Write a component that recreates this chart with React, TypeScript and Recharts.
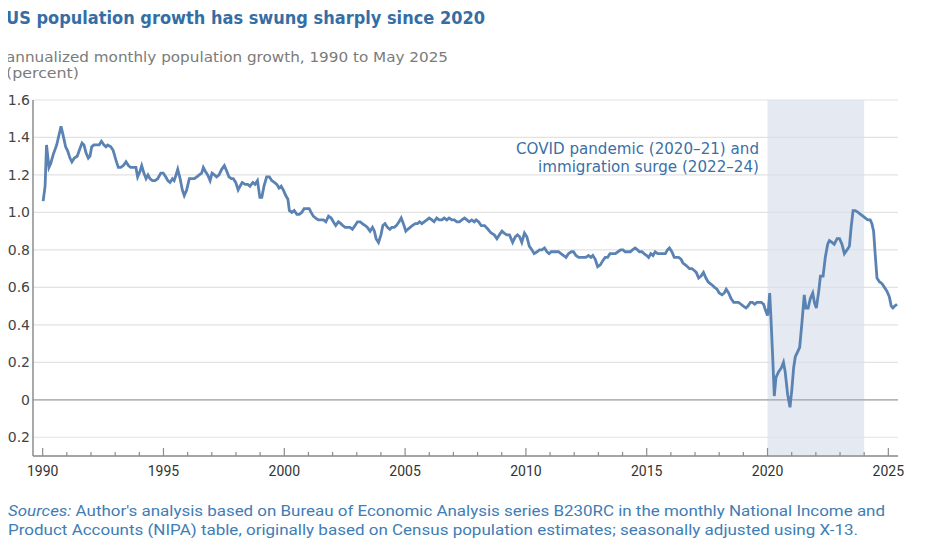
import React from 'react';
import {
  LineChart,
  Line,
  XAxis,
  YAxis,
  CartesianGrid,
  ReferenceArea,
  ReferenceLine,
} from 'recharts';

// [decimal year, annualized monthly growth %]
const growth1990s = [
  [1990.02, 1.06], [1990.1, 1.14], [1990.16, 1.36], [1990.26, 1.24], [1990.33, 1.26], [1990.44, 1.31],
  [1990.58, 1.36], [1990.76, 1.46], [1990.85, 1.41], [1990.95, 1.35], [1991.03, 1.33], [1991.13, 1.29],
  [1991.21, 1.27], [1991.31, 1.29], [1991.43, 1.3], [1991.54, 1.34], [1991.63, 1.37], [1991.71, 1.36],
  [1991.79, 1.32], [1991.89, 1.29], [1991.96, 1.3], [1992.03, 1.35], [1992.12, 1.36], [1992.24, 1.36],
  [1992.34, 1.36], [1992.43, 1.38], [1992.54, 1.36], [1992.62, 1.35], [1992.69, 1.36], [1992.82, 1.35],
  [1992.92, 1.33], [1993.03, 1.28], [1993.13, 1.24], [1993.23, 1.24], [1993.34, 1.25], [1993.45, 1.27],
  [1993.55, 1.25], [1993.64, 1.24], [1993.75, 1.24], [1993.86, 1.24], [1993.93, 1.19], [1994.03, 1.22],
  [1994.1, 1.25], [1994.19, 1.21], [1994.28, 1.18], [1994.36, 1.2], [1994.44, 1.18], [1994.54, 1.17],
  [1994.65, 1.17], [1994.76, 1.18], [1994.89, 1.21], [1994.99, 1.21], [1995.09, 1.19], [1995.18, 1.17],
  [1995.27, 1.16], [1995.37, 1.18], [1995.44, 1.17], [1995.52, 1.2], [1995.59, 1.23], [1995.69, 1.18],
  [1995.78, 1.12], [1995.86, 1.09], [1995.96, 1.12], [1996.07, 1.18], [1996.17, 1.18], [1996.28, 1.18],
  [1996.38, 1.19], [1996.48, 1.2], [1996.58, 1.21], [1996.65, 1.24], [1996.73, 1.22], [1996.83, 1.2],
  [1996.93, 1.17], [1997.01, 1.21], [1997.11, 1.2], [1997.2, 1.19], [1997.3, 1.2], [1997.41, 1.23],
  [1997.52, 1.25], [1997.62, 1.22], [1997.71, 1.19], [1997.81, 1.18], [1997.89, 1.18], [1997.99, 1.16],
  [1998.09, 1.12], [1998.17, 1.14], [1998.26, 1.16], [1998.38, 1.15], [1998.49, 1.15], [1998.58, 1.14],
  [1998.7, 1.16], [1998.79, 1.15], [1998.89, 1.17], [1998.99, 1.08], [1999.07, 1.08], [1999.16, 1.14],
  [1999.27, 1.19], [1999.38, 1.19], [1999.48, 1.17], [1999.59, 1.16], [1999.69, 1.15], [1999.78, 1.13],
  [1999.87, 1.14], [1999.96, 1.12],
];

const growth2000s = [
  [2000.06, 1.09], [2000.15, 1.07], [2000.21, 1.01], [2000.31, 1.0], [2000.41, 1.01], [2000.52, 0.99],
  [2000.62, 0.99], [2000.72, 1.0], [2000.82, 1.02], [2000.93, 1.02], [2001.03, 1.02], [2001.11, 1.0],
  [2001.2, 0.98], [2001.3, 0.97], [2001.41, 0.96], [2001.52, 0.96], [2001.62, 0.96], [2001.72, 0.95],
  [2001.83, 0.98], [2001.94, 0.97], [2002.03, 0.95], [2002.13, 0.93], [2002.24, 0.95], [2002.34, 0.94],
  [2002.42, 0.93], [2002.52, 0.92], [2002.61, 0.92], [2002.72, 0.92], [2002.82, 0.91], [2002.93, 0.93],
  [2003.03, 0.95], [2003.14, 0.95], [2003.23, 0.94], [2003.35, 0.93], [2003.44, 0.92], [2003.55, 0.9],
  [2003.65, 0.92], [2003.73, 0.9], [2003.8, 0.86], [2003.9, 0.84], [2004.0, 0.88], [2004.08, 0.93],
  [2004.17, 0.94], [2004.27, 0.92], [2004.37, 0.91], [2004.45, 0.92], [2004.55, 0.92], [2004.64, 0.93],
  [2004.75, 0.95], [2004.84, 0.97], [2004.93, 0.94], [2005.03, 0.9], [2005.11, 0.91], [2005.21, 0.92],
  [2005.3, 0.93], [2005.42, 0.94], [2005.51, 0.94], [2005.6, 0.95], [2005.69, 0.94], [2005.79, 0.95],
  [2005.9, 0.96], [2006.0, 0.97], [2006.11, 0.96], [2006.2, 0.95], [2006.31, 0.97], [2006.41, 0.96],
  [2006.52, 0.96], [2006.62, 0.97], [2006.73, 0.96], [2006.82, 0.97], [2006.94, 0.96], [2007.04, 0.96],
  [2007.14, 0.95], [2007.25, 0.95], [2007.35, 0.96], [2007.46, 0.97], [2007.56, 0.96], [2007.65, 0.95],
  [2007.76, 0.96], [2007.86, 0.95], [2007.94, 0.96], [2008.04, 0.95], [2008.15, 0.93], [2008.29, 0.93],
  [2008.43, 0.91], [2008.56, 0.89], [2008.69, 0.88], [2008.8, 0.86], [2008.9, 0.88], [2009.01, 0.9],
  [2009.1, 0.89], [2009.21, 0.88], [2009.32, 0.88], [2009.45, 0.84], [2009.56, 0.87], [2009.65, 0.88],
  [2009.74, 0.87], [2009.83, 0.84], [2009.94, 0.89],
];

const growth2010s = [
  [2010.04, 0.87], [2010.14, 0.82], [2010.25, 0.8], [2010.34, 0.78], [2010.46, 0.79], [2010.56, 0.8],
  [2010.66, 0.8], [2010.77, 0.81], [2010.87, 0.79], [2010.96, 0.78], [2011.05, 0.79], [2011.14, 0.79],
  [2011.24, 0.79], [2011.35, 0.79], [2011.45, 0.78], [2011.56, 0.77], [2011.66, 0.76], [2011.76, 0.78],
  [2011.88, 0.79], [2011.97, 0.79], [2012.07, 0.77], [2012.18, 0.76], [2012.29, 0.76], [2012.38, 0.76],
  [2012.48, 0.76], [2012.59, 0.77], [2012.69, 0.76], [2012.77, 0.77], [2012.87, 0.75], [2012.97, 0.71],
  [2013.08, 0.72], [2013.17, 0.74], [2013.28, 0.76], [2013.38, 0.76], [2013.48, 0.78], [2013.59, 0.78],
  [2013.7, 0.78], [2013.81, 0.79], [2013.92, 0.8], [2014.02, 0.8], [2014.11, 0.79], [2014.22, 0.79],
  [2014.32, 0.79], [2014.41, 0.8], [2014.52, 0.81], [2014.62, 0.8], [2014.7, 0.79], [2014.8, 0.79],
  [2014.89, 0.78], [2015.0, 0.77], [2015.08, 0.76], [2015.17, 0.78], [2015.26, 0.77], [2015.35, 0.79],
  [2015.45, 0.78], [2015.56, 0.78], [2015.67, 0.78], [2015.77, 0.78], [2015.86, 0.8], [2015.94, 0.81],
  [2016.04, 0.79], [2016.14, 0.76], [2016.22, 0.76], [2016.32, 0.76], [2016.42, 0.75], [2016.5, 0.73],
  [2016.6, 0.72], [2016.69, 0.71], [2016.77, 0.7], [2016.87, 0.7], [2016.97, 0.69], [2017.05, 0.68],
  [2017.15, 0.65], [2017.25, 0.66], [2017.35, 0.68], [2017.45, 0.65], [2017.54, 0.63], [2017.63, 0.62],
  [2017.73, 0.61], [2017.81, 0.6], [2017.91, 0.59], [2018.0, 0.57], [2018.12, 0.56], [2018.21, 0.57],
  [2018.29, 0.59], [2018.39, 0.57], [2018.49, 0.54], [2018.6, 0.52], [2018.71, 0.52], [2018.8, 0.52],
  [2018.9, 0.51], [2019.0, 0.5], [2019.11, 0.49], [2019.19, 0.5], [2019.29, 0.52], [2019.38, 0.52],
  [2019.47, 0.51], [2019.56, 0.52], [2019.66, 0.52], [2019.74, 0.52], [2019.84, 0.51], [2019.91, 0.48],
];

const growth2020s = [
  [2020.0, 0.45], [2020.04, 0.49], [2020.09, 0.57], [2020.14, 0.44], [2020.21, 0.24], [2020.28, 0.02],
  [2020.35, 0.12], [2020.46, 0.15], [2020.57, 0.17], [2020.66, 0.2], [2020.73, 0.15], [2020.83, 0.03],
  [2020.93, -0.04], [2021.01, 0.06], [2021.08, 0.17], [2021.15, 0.23], [2021.26, 0.26], [2021.33, 0.28],
  [2021.43, 0.42], [2021.52, 0.56], [2021.59, 0.49], [2021.68, 0.49], [2021.77, 0.54], [2021.87, 0.57],
  [2021.94, 0.52], [2022.02, 0.49], [2022.12, 0.58], [2022.19, 0.66], [2022.3, 0.66], [2022.39, 0.76],
  [2022.49, 0.83], [2022.56, 0.85], [2022.67, 0.84], [2022.76, 0.83], [2022.88, 0.86], [2022.98, 0.86],
  [2023.08, 0.83], [2023.18, 0.78], [2023.29, 0.8], [2023.39, 0.82], [2023.46, 0.92], [2023.54, 1.01],
  [2023.63, 1.01], [2023.75, 1.0], [2023.85, 0.99], [2023.95, 0.98], [2024.05, 0.97], [2024.14, 0.96],
  [2024.25, 0.96], [2024.32, 0.94], [2024.39, 0.9], [2024.46, 0.77], [2024.53, 0.65], [2024.63, 0.63],
  [2024.74, 0.62], [2024.84, 0.6], [2024.94, 0.58], [2025.04, 0.55], [2025.12, 0.5], [2025.19, 0.49],
  [2025.26, 0.5], [2025.36, 0.51],
];

const yTicks = [-0.2, 0, 0.2, 0.4, 0.6, 0.8, 1.0, 1.2, 1.4, 1.6];
const xTicks = Array.from({ length: 36 }, (_, i) => 1990 + i);
const shadeStart = 2020;
const shadeEnd = 2024;

const data = [...growth1990s, ...growth2000s, ...growth2010s, ...growth2020s].map(([year, value]) => ({
  year,
  value,
}));

const BLUE = '#346ea5';
const AXIS = '#8c8c8c';

const YearTick = (props: any) => {
  const { x, y, payload } = props;
  const major = payload.value % 5 === 0;
  return (
    <g>
      <line x1={x} x2={x} y1={y} y2={y - (major ? 8 : 4)} stroke={AXIS} strokeWidth={1.2} />
      {major && (
        <text x={x} y={y + 20} textAnchor="middle" fontSize={14} fill="#333" fontFamily="Roboto">
          {payload.value}
        </text>
      )}
    </g>
  );
};

const ValueTick = (props: any) => {
  const { y, payload } = props;
  const v = payload.value;
  return (
    <text x={30} y={y + 5} textAnchor="end" fontSize={14} fill="#444" fontFamily="DejaVu Sans">
      {v === 0 ? '0' : v.toFixed(1)}
    </text>
  );
};

const App: React.FC = () => {
  return (
    <div
      style={{
        position: 'relative',
        width: 936,
        height: 546,
        margin: -8,
        overflow: 'hidden',
        background: '#fff',
      }}
    >
      <div style={{ position: 'absolute', left: 0, top: 0 }}>
        <LineChart width={936} height={546} data={data} margin={{ top: 100, right: 38, bottom: 60, left: 0 }}>
          <ReferenceArea
            x1={shadeStart}
            x2={shadeEnd}
            y1={-0.3}
            y2={1.6}
            fill="#d8e0ec"
            fillOpacity={0.7}
            stroke="none"
          />
          <CartesianGrid vertical={false} stroke="#e2e2e2" strokeWidth={1.2} />
          <ReferenceLine y={0} stroke="#a3a3a3" strokeWidth={1.3} />
          <XAxis
            dataKey="year"
            type="number"
            domain={[1989.6, 2025.4]}
            ticks={xTicks}
            interval={0}
            allowDataOverflow
            height={30}
            tickSize={0}
            tickMargin={0}
            tickLine={false}
            axisLine={{ stroke: AXIS, strokeWidth: 1.5 }}
            tick={<YearTick />}
          />
          <YAxis
            type="number"
            domain={[-0.3, 1.6]}
            ticks={yTicks}
            interval={0}
            allowDataOverflow
            width={33}
            tickLine={false}
            tickSize={0}
            tickMargin={3}
            axisLine={{ stroke: AXIS, strokeWidth: 1.5 }}
            tick={<ValueTick />}
          />
          <Line
            type="linear"
            dataKey="value"
            stroke="#5a82b2"
            strokeWidth={2.8}
            dot={false}
            isAnimationActive={false}
          />
        </LineChart>
      </div>
      <svg
        width={936}
        height={546}
        style={{ position: 'absolute', left: 0, top: 0, pointerEvents: 'none' }}
      >
        <text x={6} y={2} fontSize={15} fill="#9a9a9a" fontFamily="DejaVu Sans">
          Figure 1
        </text>
        <text
          x={6}
          y={24}
          fontSize={18}
          fontWeight="bold"
          fill={BLUE}
          fontFamily="DejaVu Sans"
          textLength={479}
          lengthAdjust="spacingAndGlyphs"
        >
          US population growth has swung sharply since 2020
        </text>
        <text
          x={6}
          y={62}
          fontSize={14}
          fill="#7b7b7b"
          fontFamily="DejaVu Sans"
          textLength={442}
          lengthAdjust="spacingAndGlyphs"
        >
          annualized monthly population growth, 1990 to May 2025
        </text>
        <text x={6} y={78} fontSize={14} fill="#7b7b7b" fontFamily="DejaVu Sans" textLength={73} lengthAdjust="spacingAndGlyphs">
          (percent)
        </text>
        <text
          x={759}
          y={154}
          fontSize={15}
          fill="#3a70a8"
          textAnchor="end"
          fontFamily="DejaVu Sans"
          textLength={243}
          lengthAdjust="spacingAndGlyphs"
        >
          COVID pandemic (2020–21) and
        </text>
        <text
          x={759}
          y={172}
          fontSize={15}
          fill="#3a70a8"
          textAnchor="end"
          fontFamily="DejaVu Sans"
          textLength={221}
          lengthAdjust="spacingAndGlyphs"
        >
          immigration surge (2022–24)
        </text>
        <text
          x={8}
          y={516}
          fontSize={15}
          fill="#3f7db5"
          fontFamily="Roboto"
          textLength={877}
          lengthAdjust="spacingAndGlyphs"
        >
          <tspan fontStyle="italic">Sources:</tspan> Author's analysis based on Bureau of Economic Analysis series
          B230RC in the monthly National Income and
        </text>
        <text
          x={8}
          y={535}
          fontSize={15}
          fill="#3f7db5"
          fontFamily="Roboto"
          textLength={850}
          lengthAdjust="spacingAndGlyphs"
        >
          Product Accounts (NIPA) table, originally based on Census population estimates; seasonally adjusted using
          X-13.
        </text>
      </svg>
    </div>
  );
};

export default App;
